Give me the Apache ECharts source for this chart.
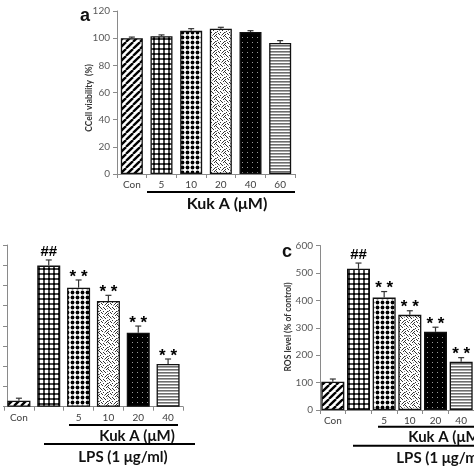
<!DOCTYPE html>
<html>
<head>
<meta charset="utf-8">
<script src="https://cdn.jsdelivr.net/npm/echarts@6/dist/echarts.min.js"></script>
<style>
html,body{margin:0;padding:0;background:#fff;}
#chart{width:474px;height:474px;}
</style>
</head>
<body>
<div id="chart"></div>
<script>
// ---------- data ----------
const aCats = ['Con', '5', '10', '20', '40', '60'];
const aVals = [100, 101.5, 105.5, 107, 104.5, 96.5];
const aErr  = [0.8, 0.9, 1.5, 1.0, 1.0, 1.7];

const bCats = ['Con', '', '5', '10', '20', '40'];
const bVals = [3.0, 69.8, 58.9, 52.3, 36.6, 21.1];
const bErr  = [1.2, 2.8, 3.8, 2.8, 3.3, 2.5];
const bMarks = ['', '##', '* *', '* *', '* *', '* *'];

const cCats = ['Con', '', '5', '10', '20', '40'];
const cVals = [103, 515, 410, 347, 285, 176];
const cErr  = [10, 21, 22, 15, 17, 15];
const cMarks = ['', '##', '* *', '* *', '* *', '* *'];

const aTicks = [0, 20, 40, 60, 80, 100, 120];
const cTicks = [0, 100, 200, 300, 400, 500, 600];

// ---------- patterns ----------
function tile(w, h, draw) {
  const c = document.createElement('canvas');
  c.width = w; c.height = h;
  const ctx = c.getContext('2d');
  draw(ctx, w, h);
  return { image: c, repeat: 'repeat' };
}
const stipplePts = [[0,0],[4,1],[7,0],[2,2],[6,3],[1,4],[8,5],[4,5],[0,7],[3,7],[6,7],[8,8],[5,2],[2,6],[7,6],[1,1]];
const patterns = [
  // diagonal stripes
  tile(7, 7, (ctx, w, h) => {
    ctx.fillStyle = '#fff'; ctx.fillRect(0, 0, w, h);
    ctx.strokeStyle = '#000'; ctx.lineWidth = 2.3;
    [-7, 0, 7].forEach((o) => {
      ctx.beginPath(); ctx.moveTo(o, h); ctx.lineTo(o + w, 0); ctx.stroke();
    });
  }),
  // grey checker with white squares and black dots
  tile(5, 5, (ctx, w, h) => {
    ctx.fillStyle = '#4a4a4a'; ctx.fillRect(0, 0, w, h);
    ctx.fillStyle = '#fff'; ctx.fillRect(0, 0, 3, 3);
    ctx.fillStyle = '#000'; ctx.fillRect(3, 3, 2, 2);
  }),
  // black dots on white
  tile(5, 5, (ctx, w, h) => {
    ctx.fillStyle = '#fff'; ctx.fillRect(0, 0, w, h);
    ctx.fillStyle = '#000';
    ctx.beginPath(); ctx.arc(2.5, 2.5, 1.9, 0, Math.PI * 2); ctx.fill();
  }),
  // fine random-looking stipple
  tile(9, 9, (ctx, w, h) => {
    ctx.fillStyle = '#fff'; ctx.fillRect(0, 0, w, h);
    ctx.fillStyle = '#333';
    stipplePts.forEach(([x, y]) => ctx.fillRect(x, y, 1, 1));
    ctx.fillStyle = '#888';
    [[3,3],[5,8],[8,2],[0,5]].forEach(([x, y]) => ctx.fillRect(x, y, 1, 1));
  }),
  // black with white dots
  tile(5, 5, (ctx, w, h) => {
    ctx.fillStyle = '#000'; ctx.fillRect(0, 0, w, h);
    ctx.fillStyle = '#999'; ctx.fillRect(2, 2, 1, 1);
  }),
  // horizontal stripes
  tile(4, 3, (ctx, w, h) => {
    ctx.fillStyle = '#fff'; ctx.fillRect(0, 0, w, h);
    ctx.fillStyle = '#6e6e6e'; ctx.fillRect(0, 0, w, 1);
    ctx.fillStyle = '#a8a8a8'; ctx.fillRect(0, 1, w, 1);
  })
];

// ---------- helpers ----------
const FONT = 'Lato, "Open Sans", sans-serif';
const axisGrey = '#8a8a8a';

function barData(vals) {
  return vals.map((v, i) => ({
    value: v,
    itemStyle: { color: patterns[i], borderColor: '#111', borderWidth: 1.3 }
  }));
}
function errData(vals, errs) {
  return vals.map((v, i) => [i, v, errs[i]]);
}
function makeErrRender(marks) {
  return function (params, api) {
    const x = api.value(0), v = api.value(1), e = api.value(2);
    const p0 = api.coord([x, v]);
    const p1 = api.coord([x, v + e]);
    const children = [
      { type: 'line', shape: { x1: p0[0], y1: p0[1], x2: p1[0], y2: p1[1] },
        style: { stroke: '#333', lineWidth: 1.2 } },
      { type: 'line', shape: { x1: p1[0] - 3, y1: p1[1], x2: p1[0] + 3, y2: p1[1] },
        style: { stroke: '#333', lineWidth: 1.2 } }
    ];
    const m = marks ? marks[params.dataIndex] : '';
    if (m) {
      const isStar = m.indexOf('*') >= 0;
      children.push({
        type: 'text', x: p1[0], y: p1[1] - (isStar ? 3 : 8),
        style: { text: m, fill: '#000', align: 'center', verticalAlign: 'middle',
          font: isStar ? 'bold 17px "Liberation Sans", Arial, sans-serif'
                       : 'bold 15px "Liberation Sans", Arial, sans-serif' }
      });
    }
    return { type: 'group', children };
  };
}

function catAxis(gi, cats) {
  return {
    type: 'category', gridIndex: gi, data: cats,
    axisLine: { lineStyle: { color: axisGrey, width: 1 } },
    axisTick: { show: true, length: 4, alignWithLabel: false, lineStyle: { color: axisGrey } },
    axisLabel: { fontSize: 10, color: '#404040', fontFamily: FONT, margin: 6, interval: 0 }
  };
}
function valAxis(gi, min, max, step, showLabels, offset) {
  return {
    type: 'value', gridIndex: gi, min, max, interval: step, offset: offset || 0,
    axisLine: { show: true, lineStyle: { color: axisGrey, width: 1 } },
    axisTick: { show: true, length: 4, lineStyle: { color: axisGrey } },
    splitLine: { show: false },
    axisLabel: { show: showLabels, fontSize: 10, color: '#595959', fontFamily: FONT, margin: 7 }
  };
}

const chart = echarts.init(document.getElementById('chart'), null, { renderer: 'canvas' });

const option = {
  backgroundColor: '#fff',
  animation: false,
  grid: [
    { left: 117, top: 11, width: 178, height: 163 },
    { left: 4, top: 245, width: 179, height: 161.7 },
    { left: 320, top: 245.5, width: 180, height: 164.5 }
  ],
  xAxis: [catAxis(0, aCats), catAxis(1, bCats), catAxis(2, cCats)],
  yAxis: [
    valAxis(0, 0, 120, 20, true),
    valAxis(1, 0, 80, 10, false, -3),
    valAxis(2, 0, 600, 100, true)
  ],
  series: [
    { type: 'bar', xAxisIndex: 0, yAxisIndex: 0, barWidth: 22, data: barData(aVals) },
    { type: 'custom', xAxisIndex: 0, yAxisIndex: 0, renderItem: makeErrRender(null), data: errData(aVals, aErr), z: 5 },
    { type: 'bar', xAxisIndex: 1, yAxisIndex: 1, barWidth: 23, data: barData(bVals) },
    { type: 'custom', xAxisIndex: 1, yAxisIndex: 1, renderItem: makeErrRender(bMarks), data: errData(bVals, bErr), z: 5 },
    { type: 'bar', xAxisIndex: 2, yAxisIndex: 2, barWidth: 23, data: barData(cVals) },
    { type: 'custom', xAxisIndex: 2, yAxisIndex: 2, renderItem: makeErrRender(cMarks), data: errData(cVals, cErr), z: 5 }
  ],
  graphic: [
    // panel letters
    { type: 'text', x: 85, y: 16, style: { text: 'a', font: 'bold 18px Arial, sans-serif', fill: '#111', align: 'center', verticalAlign: 'middle' } },
    { type: 'text', x: 287, y: 252, style: { text: 'c', font: 'bold 18px Arial, sans-serif', fill: '#111', align: 'center', verticalAlign: 'middle' } },
    // y titles
    { type: 'text', x: 89, y: 98, rotation: Math.PI / 2,
      style: { text: 'CCell viability  (%)', font: 'bold 8.5px ' + FONT, fill: '#333', align: 'center', verticalAlign: 'middle' } },
    { type: 'text', x: 288, y: 327, rotation: Math.PI / 2,
      style: { text: 'ROS level (% of control)', font: 'bold 8.5px ' + FONT, fill: '#333', align: 'center', verticalAlign: 'middle' } },
    // panel a bracket
    { type: 'line', shape: { x1: 147, y1: 192, x2: 295, y2: 192 }, style: { stroke: '#000', lineWidth: 2.2 } },
    { type: 'text', x: 227, y: 204, style: { text: 'Kuk A (μM)', font: 'bold 16px ' + FONT, fill: '#111', align: 'center', verticalAlign: 'middle' } },
    // panel b brackets
    { type: 'line', shape: { x1: 69, y1: 425, x2: 178, y2: 425 }, style: { stroke: '#000', lineWidth: 2 } },
    { type: 'text', x: 137, y: 436, style: { text: 'Kuk A (μM)', font: 'bold 15px ' + FONT, fill: '#111', align: 'center', verticalAlign: 'middle' } },
    { type: 'line', shape: { x1: 44, y1: 444, x2: 195, y2: 444 }, style: { stroke: '#000', lineWidth: 2 } },
    { type: 'text', x: 123, y: 457, style: { text: 'LPS (1 μg/ml)', font: 'bold 15px ' + FONT, fill: '#111', align: 'center', verticalAlign: 'middle' } },
    // panel c brackets
    { type: 'line', shape: { x1: 378, y1: 426.7, x2: 490, y2: 426.7 }, style: { stroke: '#000', lineWidth: 2 } },
    { type: 'text', x: 446, y: 437, style: { text: 'Kuk A (μM)', font: 'bold 15px ' + FONT, fill: '#111', align: 'center', verticalAlign: 'middle' } },
    { type: 'line', shape: { x1: 353, y1: 445.7, x2: 500, y2: 445.7 }, style: { stroke: '#000', lineWidth: 2 } },
    { type: 'text', x: 441, y: 458, style: { text: 'LPS (1 μg/ml)', font: 'bold 15px ' + FONT, fill: '#111', align: 'center', verticalAlign: 'middle' } }
  ]
};
chart.setOption(option);
</script>
</body>
</html>
